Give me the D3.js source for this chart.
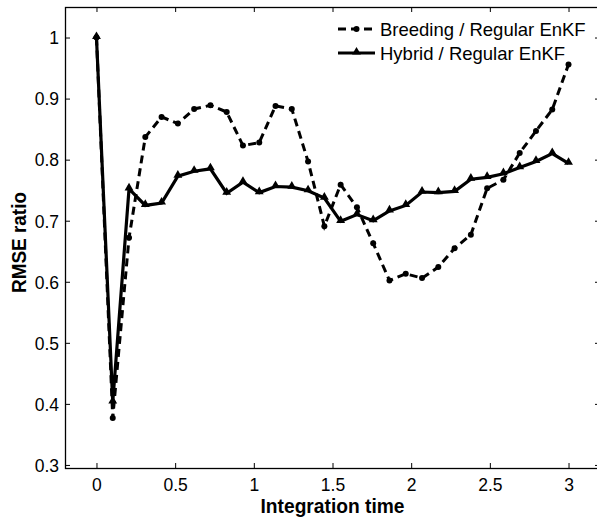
<!DOCTYPE html>
<html>
<head>
<meta charset="utf-8">
<script src="https://cdn.jsdelivr.net/npm/d3@7"></script>
<style>
  html, body { margin: 0; padding: 0; background: #fff; }
  svg { display: block; }
</style>
</head>
<body>
<svg id="chart" width="597" height="518"></svg>
<script>
// ---- data ----
const times = [0, 0.1034, 0.2069, 0.3103, 0.4138, 0.5172, 0.6207, 0.7241, 0.8276, 0.9310,
  1.0345, 1.1379, 1.2414, 1.3448, 1.4483, 1.5517, 1.6552, 1.7586, 1.8621, 1.9655,
  2.0690, 2.1724, 2.2759, 2.3793, 2.4828, 2.5862, 2.6897, 2.7931, 2.8966, 3.0];
const breeding = [1.0, 0.377, 0.672, 0.837, 0.870, 0.859, 0.883, 0.889, 0.878, 0.823,
  0.828, 0.888, 0.883, 0.797, 0.691, 0.759, 0.722, 0.663, 0.602, 0.613,
  0.606, 0.624, 0.655, 0.677, 0.753, 0.767, 0.811, 0.847, 0.882, 0.956];
const hybrid = [1.0, 0.403, 0.752, 0.725, 0.729, 0.773, 0.781, 0.785, 0.745, 0.763,
  0.746, 0.756, 0.755, 0.749, 0.737, 0.699, 0.710, 0.700, 0.716, 0.725,
  0.747, 0.746, 0.748, 0.768, 0.771, 0.777, 0.787, 0.797, 0.810, 0.794];
const seriesNames = ["Breeding / Regular EnKF", "Hybrid / Regular EnKF"];
const xTicks = [0, 0.5, 1, 1.5, 2, 2.5, 3];
const yTicks = [0.3, 0.4, 0.5, 0.6, 0.7, 0.8, 0.9, 1];
const xLabel = "Integration time";
const yLabel = "RMSE ratio";

// ---- layout ----
const svg = d3.select("#chart");
const L = 65, R = 600, T = 7, B = 468;
const x = d3.scaleLinear().domain([-0.2, 3.2]).range([L, R]);
const y = d3.scaleLinear().domain([0.295, 1.05]).range([B, T]);
const tickFont = "'Liberation Sans', Arial, sans-serif";
const labelFont = "'Liberation Sans Narrow', 'Liberation Sans', Arial, sans-serif";

// axes (MATLAB box style, ticks inward)
const gx = svg.append("g").attr("transform", `translate(0,${B})`)
  .call(d3.axisBottom(x).tickValues(xTicks).tickSizeInner(-5).tickSizeOuter(0).tickPadding(10)
    .tickFormat(d3.format("")));
const gxt = svg.append("g").attr("transform", `translate(0,${T})`)
  .call(d3.axisTop(x).tickValues(xTicks).tickSizeInner(-5).tickSizeOuter(0).tickFormat(""));
const gy = svg.append("g").attr("transform", `translate(${L},0)`)
  .call(d3.axisLeft(y).tickValues(yTicks).tickSizeInner(-5).tickSizeOuter(0).tickPadding(6)
    .tickFormat(d3.format("")));
const gyr = svg.append("g").attr("transform", `translate(${R},0)`)
  .call(d3.axisRight(y).tickValues(yTicks).tickSizeInner(-5).tickSizeOuter(0).tickFormat(""));
[gx, gxt, gy, gyr].forEach(g => {
  g.select(".domain").remove();
  g.selectAll("line").attr("stroke", "#000").attr("stroke-width", 1);
  g.selectAll("text").attr("fill", "#000").style("font-family", tickFont).style("font-size", "17.5px");
});
gy.selectAll("text").attr("dy", "0.36em");
gx.selectAll("text").attr("dy", "0.72em");

svg.append("rect").attr("x", L + 0.5).attr("y", T + 0.5)
  .attr("width", R - L - 1).attr("height", B - T)
  .attr("fill", "none").attr("stroke", "#000").attr("stroke-width", 1.3);

// axis labels
svg.append("text").attr("x", (L + R) / 2).attr("y", 513)
  .attr("text-anchor", "middle").style("font-family", labelFont)
  .style("font-weight", "bold").style("font-size", "21px")
  .attr("textLength", 144).attr("lengthAdjust", "spacingAndGlyphs").text(xLabel);
svg.append("text").attr("transform", `translate(26,${(T + B) / 2 + 5}) rotate(-90)`)
  .attr("text-anchor", "middle").style("font-family", labelFont)
  .style("font-weight", "bold").style("font-size", "21px")
  .attr("textLength", 101).attr("lengthAdjust", "spacingAndGlyphs").text(yLabel);

// lines
const plot = svg.append("g");
const line = d3.line().x(d => x(d[0])).y(d => y(d[1]));
const bData = times.map((t, i) => [t, breeding[i]]);
const hData = times.map((t, i) => [t, hybrid[i]]);

plot.append("path").datum(bData).attr("d", line)
  .attr("fill", "none").attr("stroke", "#000").attr("stroke-width", 3)
  .attr("stroke-dasharray", "8,5");
plot.selectAll("circle.b").data(bData).enter().append("circle").attr("class", "b")
  .attr("cx", d => x(d[0])).attr("cy", d => y(d[1])).attr("r", 3).attr("fill", "#000");

plot.append("path").datum(hData).attr("d", line)
  .attr("fill", "none").attr("stroke", "#000").attr("stroke-width", 3.2)
  .attr("stroke-linejoin", "miter");
const tri = d3.symbol().type(d3.symbolTriangle).size(34);
plot.selectAll("path.h").data(hData).enter().append("path").attr("class", "h")
  .attr("d", tri).attr("transform", d => `translate(${x(d[0])},${y(d[1]) - 1})`)
  .attr("fill", "#000");

// legend
const leg = svg.append("g");
const legRows = [29, 53];
const lx0 = 338, lx1 = 375;
leg.append("line").attr("x1", lx0).attr("x2", lx1).attr("y1", legRows[0]).attr("y2", legRows[0])
  .attr("stroke", "#000").attr("stroke-width", 3).attr("stroke-dasharray", "8,5");
leg.append("circle").attr("cx", (lx0 + lx1) / 2).attr("cy", legRows[0]).attr("r", 3).attr("fill", "#000");
leg.append("line").attr("x1", lx0).attr("x2", lx1).attr("y1", legRows[1]).attr("y2", legRows[1])
  .attr("stroke", "#000").attr("stroke-width", 3.2);
leg.append("path").attr("d", tri)
  .attr("transform", `translate(${(lx0 + lx1) / 2},${legRows[1] - 1})`).attr("fill", "#000");
seriesNames.forEach((n, i) => {
  leg.append("text").attr("x", 380).attr("y", legRows[i]).attr("dy", "0.36em")
    .style("font-family", tickFont).style("font-size", "18.5px").attr("fill", "#000").text(n);
});
</script>
</body>
</html>
